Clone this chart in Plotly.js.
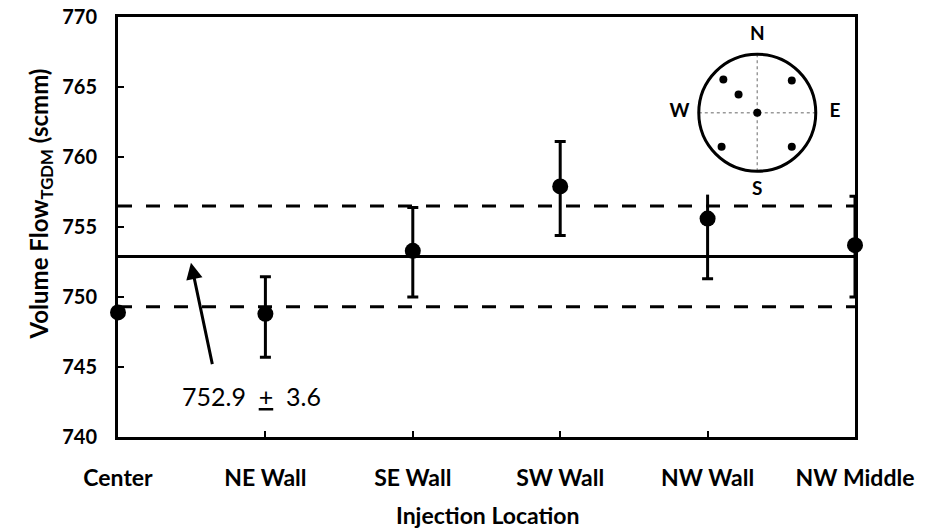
<!DOCTYPE html>
<html>
<head>
<meta charset="utf-8">
<script src="https://cdn.plot.ly/plotly-3.0.1.min.js"></script>
<style>html,body{margin:0;padding:0;background:#fff;}#chart{width:945px;height:531px;}</style>
</head>
<body>
<div id="chart"></div>
<script>
// ---- data ----
const categories = ['Center', 'NE Wall', 'SE Wall', 'SW Wall', 'NW Wall', 'NW Middle'];
const flowMean   = [748.9, 748.8, 753.3, 757.9, 755.6, 753.7];
const errPlus    = [0, 2.65, 3.1, 3.2, 3.9, 3.5];
const errMinus   = [0, 3.1, 3.3, 3.5, 4.3, 3.7];
const overallMean = 752.9;
const overallStd  = 3.6;
// compass inset: injection port positions (unit circle = pipe wall)
const portX = [0, 0.59, 0.59, -0.61, -0.58, -0.32];
const portY = [0, 0.55, -0.58, -0.58, 0.57, 0.31];
const compassLabels = ['N', 'S', 'W', 'E'];
const compassLabelX = [0, 0, -1.33, 1.33];
const compassLabelY = [1.33, -1.33, 0, 0];
const xTitle = 'Injection Location';
const yTitle = 'Volume Flow<sub>TGDM</sub> (scmm)';

const xIdx = categories.map((_, i) => i);
const xEnds = [0, categories.length - 1];
const FONT = 'Lato, "Open Sans", sans-serif';

const traces = [
  {x: xEnds, y: [overallMean, overallMean], mode: 'lines', line: {color: '#000', width: 3}, hoverinfo: 'skip'},
  {x: xEnds, y: [overallMean + overallStd, overallMean + overallStd], mode: 'lines', line: {color: '#000', width: 3, dash: '14px,14px'}, hoverinfo: 'skip'},
  {x: xEnds, y: [overallMean - overallStd, overallMean - overallStd], mode: 'lines', line: {color: '#000', width: 3, dash: '14px,14px'}, hoverinfo: 'skip'},
  {x: xIdx, y: flowMean, mode: 'markers', marker: {size: 1, opacity: 0}, cliponaxis: true,
   error_y: {type: 'data', symmetric: false, array: errPlus, arrayminus: errMinus, color: '#000', thickness: 3, width: 5.5}},
  {x: xIdx, y: flowMean, mode: 'markers', marker: {size: 16, color: '#000'}, cliponaxis: false},
  // compass inset
  {x: [-1, 1], y: [0, 0], xaxis: 'x2', yaxis: 'y2', mode: 'lines', line: {color: '#999', width: 1.5, dash: 'dot'}, hoverinfo: 'skip'},
  {x: [0, 0], y: [-1, 1], xaxis: 'x2', yaxis: 'y2', mode: 'lines', line: {color: '#999', width: 1.5, dash: 'dot'}, hoverinfo: 'skip'},
  {x: portX, y: portY, xaxis: 'x2', yaxis: 'y2', mode: 'markers', marker: {size: 8, color: '#000'}, cliponaxis: false},
  {x: compassLabelX, y: compassLabelY, xaxis: 'x2', yaxis: 'y2', mode: 'text', text: compassLabels,
   textfont: {family: FONT, size: 19, color: '#000', weight: 'bold'}, cliponaxis: false}
];

const layout = {
  width: 945, height: 531,
  margin: {l: 118, r: 90, t: 17, b: 94},
  paper_bgcolor: '#fff', plot_bgcolor: '#fff',
  showlegend: false,
  font: {family: FONT, color: '#000'},
  xaxis: {
    range: [0, categories.length - 1], tickvals: xIdx, ticktext: categories,
    showgrid: false, zeroline: false, showline: true, linecolor: '#000', linewidth: 3, mirror: true,
    ticks: 'inside', ticklen: 6, tickwidth: 2, tickcolor: '#000',
    tickfont: {family: FONT, size: 23, weight: 'bold', color: '#000'}, ticklabelstandoff: 18
  },
  yaxis: {
    range: [740, 770], dtick: 5, tick0: 740,
    showgrid: false, zeroline: false, showline: true, linecolor: '#000', linewidth: 3, mirror: true,
    ticks: 'inside', ticklen: 6, tickwidth: 2, tickcolor: '#000',
    tickfont: {family: FONT, size: 20, weight: 'bold', color: '#000'}, ticklabelstandoff: 14
  },
  xaxis2: {domain: [0.7563, 0.9785], range: [-1.4, 1.4], anchor: 'y2', visible: false, fixedrange: true},
  yaxis2: {domain: [0.5771, 0.9671], range: [-1.4, 1.4], anchor: 'x2', visible: false, fixedrange: true},
  shapes: [
    {type: 'circle', xref: 'x2', yref: 'y2', x0: -1, x1: 1, y0: -1, y1: 1, line: {color: '#000', width: 3}}
  ],
  annotations: [
    {x: 0.495, y: 752.45, ax: 0.642, ay: 745.1, xref: 'x', yref: 'y', axref: 'x', ayref: 'y',
     text: '', showarrow: true, arrowhead: 2, arrowsize: 1.1, arrowwidth: 3, arrowcolor: '#000'},
    {x: 0.906, y: 742.9, xref: 'x', yref: 'y', showarrow: false,
     text: overallMean.toFixed(1) + '\u00a0\u00a0<u>+</u>\u00a0\u00a0' + overallStd.toFixed(1),
     font: {family: FONT, size: 25, color: '#000'}},
    {x: 0.502, y: -0.186, xref: 'paper', yref: 'paper', showarrow: false, xanchor: 'center', yanchor: 'middle',
     text: xTitle, font: {family: FONT, size: 23, weight: 'bold', color: '#000'}},
    {x: -0.105, y: 0.555, xref: 'paper', yref: 'paper', showarrow: false, xanchor: 'center', yanchor: 'middle',
     textangle: -90, text: yTitle, font: {family: FONT, size: 24, weight: 'bold', color: '#000'}}
  ]
};

Plotly.newPlot('chart', traces, layout, {staticPlot: true});
</script>
</body>
</html>
